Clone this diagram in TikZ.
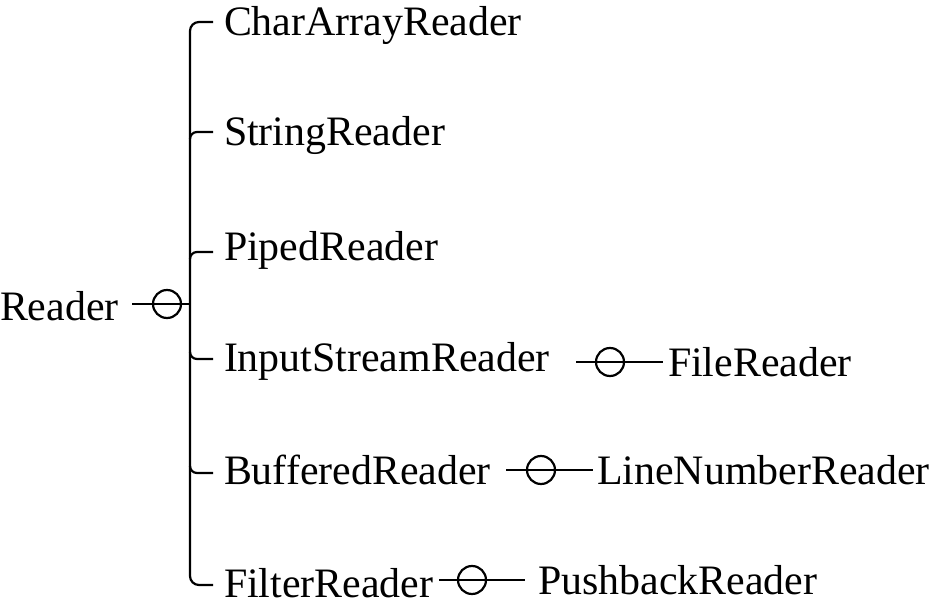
\documentclass[tikz,border=0pt]{standalone}
\usepackage{fontspec}
\setmainfont{Liberation Serif}
\begin{document}
\begin{tikzpicture}[x=1pt,y=-1pt,
  lbl/.style={anchor=base west,inner sep=0pt,outer sep=0pt,font=\fontsize{41.9}{50}\selectfont},
  ln/.style={line width=2.2pt},
  ring/.style={circle,draw,line width=2.2pt,minimum size=28pt,inner sep=0pt,outer sep=0pt}]
\useasboundingbox (0,0) rectangle (930,615);
% root
\node[lbl] (reader) at (0,320) {Reader};
\node[ring] (r0) at (167,304) {};
\coordinate (r0in) at (132,304);
\coordinate (spine) at (190,304);
\draw[ln] (r0in) -- (r0.west) -- (r0.east) -- (spine);
% first level
\node[lbl] (t1) at (224,36) {CharArrayReader};
\node[lbl] (t2) at (224,146) {StringReader};
\node[lbl] (t3) at (224,261) {PipedReader};
\node[lbl] (t4) at (224,371) {InputStreamReader};
\node[lbl] (t5) at (224,484) {BufferedReader};
\node[lbl] (t6) at (224,597) {FilterReader};
\coordinate (j1) at (190,22);
\coordinate (j2) at (190,132);
\coordinate (j3) at (190,252);
\coordinate (j4) at (190,359);
\coordinate (j5) at (190,473);
\coordinate (j6) at (190,585);
\draw[ln,rounded corners=9pt] ([xshift=-11pt]t1.west |- j1) -- (j1) -- (j6) -- ([xshift=-11pt]t6.west |- j6);
\draw[ln] ([yshift=-7pt]j2) to[out=90,in=180] ([xshift=7pt]j2) -- ([xshift=-11pt]t2.west |- j2);
\draw[ln] ([yshift=-7pt]j3) to[out=90,in=180] ([xshift=7pt]j3) -- ([xshift=-11pt]t3.west |- j3);
\draw[ln] ([yshift=7pt]j4) to[out=-90,in=180] ([xshift=7pt]j4) -- ([xshift=-11pt]t4.west |- j4);
\draw[ln] ([yshift=7pt]j5) to[out=-90,in=180] ([xshift=7pt]j5) -- ([xshift=-11pt]t5.west |- j5);
% second level
\node[ring] (c4) at (610,362) {};
\coordinate (s4) at (576,362);
\node[lbl] (u4) at (668,376) {FileReader};
\draw[ln] (s4) -- (c4.west) -- (c4.east) -- ([xshift=-5pt]u4.west |- c4);
\node[ring] (c5) at (541,470) {};
\coordinate (s5) at (506,470);
\node[lbl] (u5) at (597,484) {LineNumberReader};
\draw[ln] (s5) -- (c5.west) -- (c5.east) -- ([xshift=-4pt]u5.west |- c5);
\node[ring] (c6) at (472,580) {};
\coordinate (s6) at (439,580);
\node[lbl] (u6) at (538,594) {PushbackReader};
\draw[ln] (s6) -- (c6.west) -- (c6.east) -- ([xshift=-13pt]u6.west |- c6);
\end{tikzpicture}
\end{document}
